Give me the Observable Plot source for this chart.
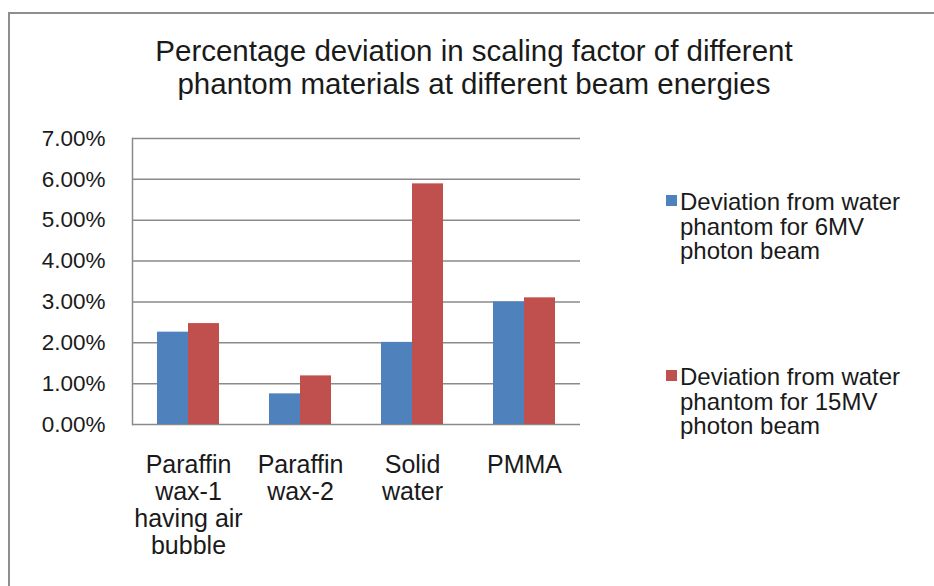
<!DOCTYPE html>
<html><head><meta charset="utf-8">
<script src="https://cdn.jsdelivr.net/npm/d3@7"></script>
<script src="https://cdn.jsdelivr.net/npm/@observablehq/plot@0.6"></script>
<style>
body{margin:0;background:#fff;font-family:"Liberation Sans",Arial,sans-serif;overflow:hidden;}
#wrap{position:relative;width:934px;height:586px;overflow:hidden;background:#fff;}
#border{position:absolute;left:8px;top:12px;width:2000px;height:2000px;border-top:2px solid #8e8e8e;border-left:2px solid #8e8e8e;}
#title{position:absolute;left:74px;width:800px;top:34px;text-align:center;font-size:29.5px;line-height:33px;color:#1a1a1a;white-space:nowrap;}
#chart{position:absolute;left:0;top:0;}
.leg{position:absolute;left:680px;font-size:24px;line-height:24.5px;color:#1a1a1a;white-space:nowrap;}
.sw{position:absolute;left:666px;width:11px;height:11px;}
</style></head><body>
<div id="wrap">
<div id="border"></div>
<div id="chart"></div>
<div id="title">Percentage deviation in scaling factor of different<br>phantom materials at different beam energies</div>
<div id="legend"></div>
</div>
<script>
const categories = ["Paraffin\nwax-1\nhaving air\nbubble", "Paraffin\nwax-2", "Solid\nwater", "PMMA"];
const series = ["Deviation from water phantom for 6MV photon beam", "Deviation from water phantom for 15MV photon beam"];
const values6MV = [2.26, 0.75, 2.01, 3.00];
const values15MV = [2.47, 1.19, 5.89, 3.10];
const colors = ["#4f81bd", "#c0504d"];
const yTicks = [0, 1, 2, 3, 4, 5, 6, 7];
const legendLines = [
  ["Deviation from water", "phantom for 6MV", "photon beam"],
  ["Deviation from water", "phantom for 15MV", "photon beam"]
];

const rows = [];
categories.forEach((c, i) => {
  rows.push({category: c, series: series[0], value: values6MV[i]});
  rows.push({category: c, series: series[1], value: values15MV[i]});
});

const plot = Plot.plot({
  width: 934, height: 586,
  marginLeft: 132, marginRight: 354, marginTop: 138, marginBottom: 162,
  style: {background: "transparent", fontFamily: "'Liberation Sans', Arial, sans-serif", color: "#1a1a1a"},
  fx: {domain: categories, padding: 0, label: null},
  x: {domain: series, paddingInner: 0, paddingOuter: 0.755, axis: null},
  y: {domain: [0, 7], label: null},
  color: {domain: series, range: colors},
  marks: [
    Plot.gridY(yTicks, {stroke: "#8a8a8a", strokeOpacity: 1, strokeWidth: 1.5}),
    Plot.barY(rows, {fx: "category", x: "series", y: "value", fill: "series"}),
    Plot.axisY(yTicks, {tickSize: 0, tickPadding: 27, fontSize: 22.5, tickFormat: d => d.toFixed(2) + "%", label: null}),
    Plot.axisFx({anchor: "bottom", tickSize: 0, tickPadding: 29, fontSize: 25, lineHeight: 1.08, label: null}),
    Plot.frame({anchor: "left", fx: [categories[0]], stroke: "#8a8a8a", strokeWidth: 1.5})
  ]
});
document.getElementById("chart").appendChild(plot);

const legend = document.getElementById("legend");
const tops = [190, 365];
series.forEach((s, i) => {
  const sw = document.createElement("div");
  sw.className = "sw";
  sw.style.top = (tops[i] + 5) + "px";
  sw.style.background = colors[i];
  legend.appendChild(sw);
  const t = document.createElement("div");
  t.className = "leg";
  t.style.top = tops[i] + "px";
  t.innerHTML = legendLines[i].join("<br>");
  legend.appendChild(t);
});
</script>
</body></html>
